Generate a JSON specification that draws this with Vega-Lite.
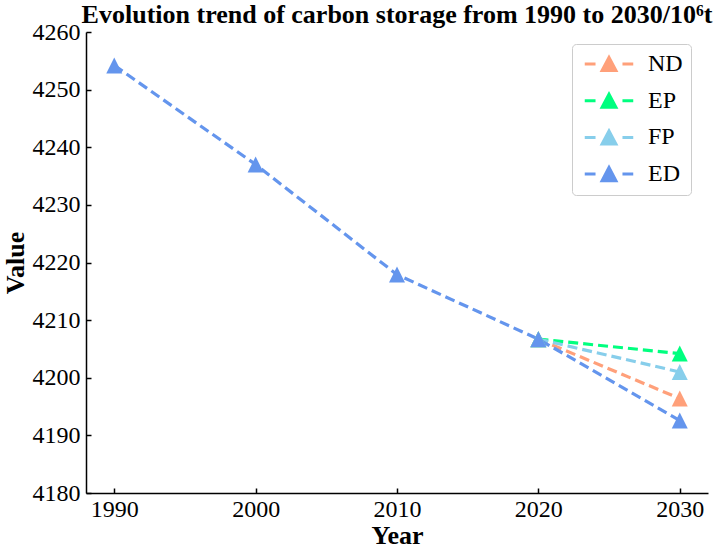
{
  "$schema": "https://vega.github.io/schema/vega-lite/v6.json",
  "width": 622,
  "height": 461,
  "autosize": {"type": "none"},
  "padding": {"left": 86, "top": 32, "right": 5, "bottom": 55},
  "background": "white",
  "title": {
    "text": "Evolution trend of carbon storage from 1990 to 2030/10⁶t",
    "font": "Liberation Serif",
    "fontSize": 26,
    "fontWeight": "bold",
    "color": "black",
    "anchor": "middle",
    "offset": -8
  },
  "config": {
    "view": {"stroke": null},
    "axis": {
      "grid": false,
      "domainColor": "black",
      "domainWidth": 1.5,
      "tickColor": "black",
      "tickWidth": 1.5,
      "tickSize": -5,
      "labelFont": "Liberation Serif",
      "labelFontSize": 24,
      "labelColor": "black",
      "titleFont": "Liberation Serif",
      "titleFontSize": 26,
      "titleFontWeight": "bold",
      "titleColor": "black"
    }
  },
  "data": {
    "values": [
      {"year": 2020, "value": 4206.7, "scenario": "ND"},
      {"year": 2030, "value": 4196.4, "scenario": "ND"},
      {"year": 2020, "value": 4206.7, "scenario": "EP"},
      {"year": 2030, "value": 4204.2, "scenario": "EP"},
      {"year": 2020, "value": 4206.7, "scenario": "FP"},
      {"year": 2030, "value": 4201.0, "scenario": "FP"},
      {"year": 1990, "value": 4254.2, "scenario": "ED"},
      {"year": 2000, "value": 4237.0, "scenario": "ED"},
      {"year": 2010, "value": 4217.9, "scenario": "ED"},
      {"year": 2020, "value": 4206.7, "scenario": "ED"},
      {"year": 2030, "value": 4192.6, "scenario": "ED"}
    ]
  },
  "encoding": {
    "x": {
      "field": "year",
      "type": "quantitative",
      "title": "Year",
      "scale": {"domain": [1988, 2032], "nice": false, "zero": false},
      "axis": {"values": [1990, 2000, 2010, 2020, 2030], "format": "d", "labelPadding": 9, "titlePadding": 1}
    },
    "y": {
      "field": "value",
      "type": "quantitative",
      "title": "Value",
      "scale": {"domain": [4180, 4260], "nice": false, "zero": false},
      "axis": {"values": [4180, 4190, 4200, 4210, 4220, 4230, 4240, 4250, 4260], "format": "d", "labelPadding": 11, "titlePadding": 4}
    },
    "color": {
      "field": "scenario",
      "type": "nominal",
      "sort": ["ND", "EP", "FP", "ED"],
      "scale": {
        "domain": ["ND", "EP", "FP", "ED"],
        "range": ["#FFA07A", "#00FF7F", "#87CEEB", "#6495ED"]
      },
      "legend": {
        "title": null,
        "orient": "none",
        "direction": "vertical",
        "legendX": 486,
        "legendY": 12,
        "padding": 8,
        "rowPadding": 10.7,
        "fillColor": "white",
        "strokeColor": "#cccccc",
        "cornerRadius": 4,
        "symbolType": "M-3.15,0L-1.75,0M1.75,0L3.15,0M0,-0.85L-0.9,0.85L0.9,0.85Z",
        "symbolSize": 237,
        "symbolStrokeWidth": 3,
        "symbolOffset": 17,
        "labelFont": "Liberation Serif",
        "labelFontSize": 24,
        "labelColor": "black",
        "labelOffset": 27
      }
    }
  },
  "layer": [
    {
      "mark": {"type": "line", "strokeDash": [10, 5], "strokeWidth": 3.2, "strokeCap": "butt"}
    },
    {
      "mark": {"type": "point", "shape": "M0,-1L-1,1L1,1Z", "filled": true, "size": 256, "opacity": 1}
    }
  ]
}
